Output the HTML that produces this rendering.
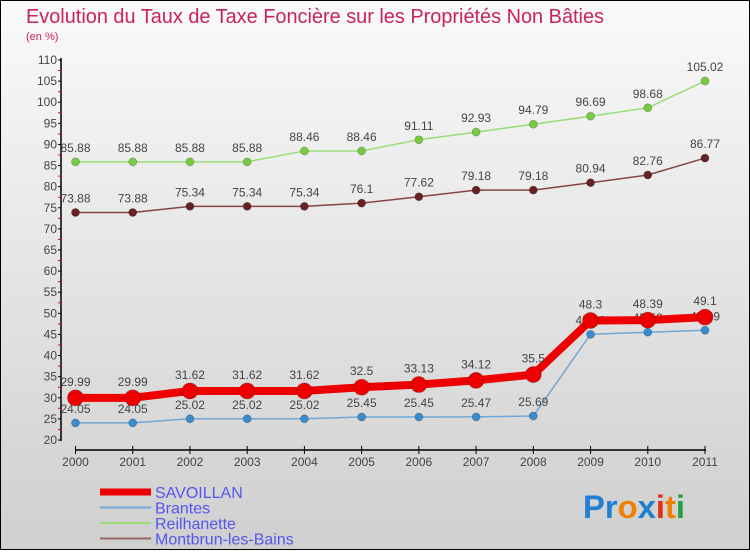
<!DOCTYPE html>
<html><head><meta charset="utf-8"><style>
html,body{margin:0;padding:0}
body{width:750px;height:550px;overflow:hidden;font-family:"Liberation Sans",sans-serif}
</style></head><body>
<svg id="c" width="750" height="550" xmlns="http://www.w3.org/2000/svg">
<defs><linearGradient id="bg" x1="0" y1="0" x2="0" y2="1"><stop offset="0" stop-color="#fafafa"/><stop offset="1" stop-color="#cfcfcf"/></linearGradient></defs>
<rect x="0.5" y="0.5" width="749" height="549" fill="url(#bg)" stroke="#000"/>
<text x="26" y="23" font-size="20" fill="#cc2255" textLength="578" lengthAdjust="spacingAndGlyphs">Evolution du Taux de Taxe Foncière sur les Propriétés Non Bâties</text>
<text x="26" y="40" font-size="11" fill="#cc2255">(en %)</text>
<g id="axes"></g>
<g id="series"></g>
<g id="legend"></g>
<text x="583" y="518" font-size="32" font-weight="bold" textLength="102" lengthAdjust="spacingAndGlyphs"><tspan fill="#1f7fd0">Pr</tspan><tspan fill="#f08000">o</tspan><tspan fill="#1f7fd0">x</tspan><tspan fill="#e03010">i</tspan><tspan fill="#f08000">t</tspan><tspan fill="#20a040">i</tspan></text>
</svg>
<script>
const years=[2000,2001,2002,2003,2004,2005,2006,2007,2008,2009,2010,2011];
const yTicks=[20,25,30,35,40,45,50,55,60,65,70,75,80,85,90,95,100,105,110];
const savoillan=[29.99,29.99,31.62,31.62,31.62,32.5,33.13,34.12,35.5,48.3,48.39,49.1];
const brantes=[24.05,24.05,25.02,25.02,25.02,25.45,25.45,25.47,25.69,45.02,45.53,45.99];
const reilhanette=[85.88,85.88,85.88,85.88,88.46,88.46,91.11,92.93,94.79,96.69,98.68,105.02];
const montbrun=[73.88,73.88,75.34,75.34,75.34,76.1,77.62,79.18,79.18,80.94,82.76,86.77];
const names=["SAVOILLAN","Brantes","Reilhanette","Montbrun-les-Bains"];

const NS="http://www.w3.org/2000/svg";
const xS=i=>75.5+i*(705-75.5)/11;
const yS=v=>440-(v-20)*(380/90);
function mk(tag,attrs,parent,txt){const e=document.createElementNS(NS,tag);for(const k in attrs)e.setAttribute(k,attrs[k]);if(txt!==undefined)e.textContent=txt;parent.appendChild(e);return e;}
const ax=document.getElementById('axes');
let l=mk('line',{x1:61,y1:58,x2:61,y2:441,stroke:'#000','stroke-width':1.5},ax);


yTicks.forEach(v=>{
  mk('line',{x1:58,x2:61,y1:yS(v),y2:yS(v),stroke:'#000'},ax);
  if(v<110) mk('line',{x1:58,x2:61,y1:yS(v+2.5),y2:yS(v+2.5),stroke:'#e00'},ax);
  const t=mk('text',{x:57,y:yS(v)+4,'font-size':12,fill:'#444','text-anchor':'end'},ax,String(v));
  
  
});
l=mk('line',{x1:75,y1:450,x2:706,y2:450,stroke:'#000','stroke-width':1.5},ax);


years.forEach((y,i)=>{
  mk('line',{x1:xS(i),x2:xS(i),y1:446,y2:454,stroke:'#000'},ax);
  const t=mk('text',{x:xS(i),y:466,'font-size':12,fill:'#444','text-anchor':'middle'},ax,String(y));
  
  
});
const sg=document.getElementById('series');
function series(vals,color,w,r,dot,key,labelDy){
  const g=mk('g',{},sg);
  
  
  mk('polyline',{points:vals.map((v,i)=>xS(i)+','+yS(v)).join(' '),fill:'none',stroke:color,'stroke-width':w,'stroke-linejoin':'round'},g);
  vals.forEach((v,i)=>{
    const c=mk('circle',{cx:xS(i),cy:yS(v),r:r,fill:dot,stroke:'rgba(0,0,0,0.25)','stroke-width':0.8},g);
    
    
    const t=mk('text',{x:xS(i),y:yS(v)+labelDy,'font-size':12,fill:'#444','text-anchor':'middle'},g,String(v));
    
    
  });
}
series(reilhanette,'#99dd77',1.5,4,'#77cc44','reilhanette',-10);
series(montbrun,'#884444',1.5,4,'#662222','montbrun',-10);
series(brantes,'#6fa8d8',1.5,4,'#3a8ccc','brantes',-10);
series(savoillan,'#ee0000',8,8,'#ee0000','savoillan',-12);
const lg=document.getElementById('legend');
const lc=['#ee0000','#6fa8d8','#99dd77','#996666'],lw=[7,2,2,2];
names.forEach((n,i)=>{
  const y=492+i*15.5;
  const g=mk('g',{},lg);
  
  
  mk('line',{x1:100,x2:151,y1:y,y2:y,stroke:lc[i],'stroke-width':lw[i]},g);
  mk('text',{x:155,y:y+6,'font-size':16,fill:'#5555ee'},g,n);
});
</script>
</body></html>
